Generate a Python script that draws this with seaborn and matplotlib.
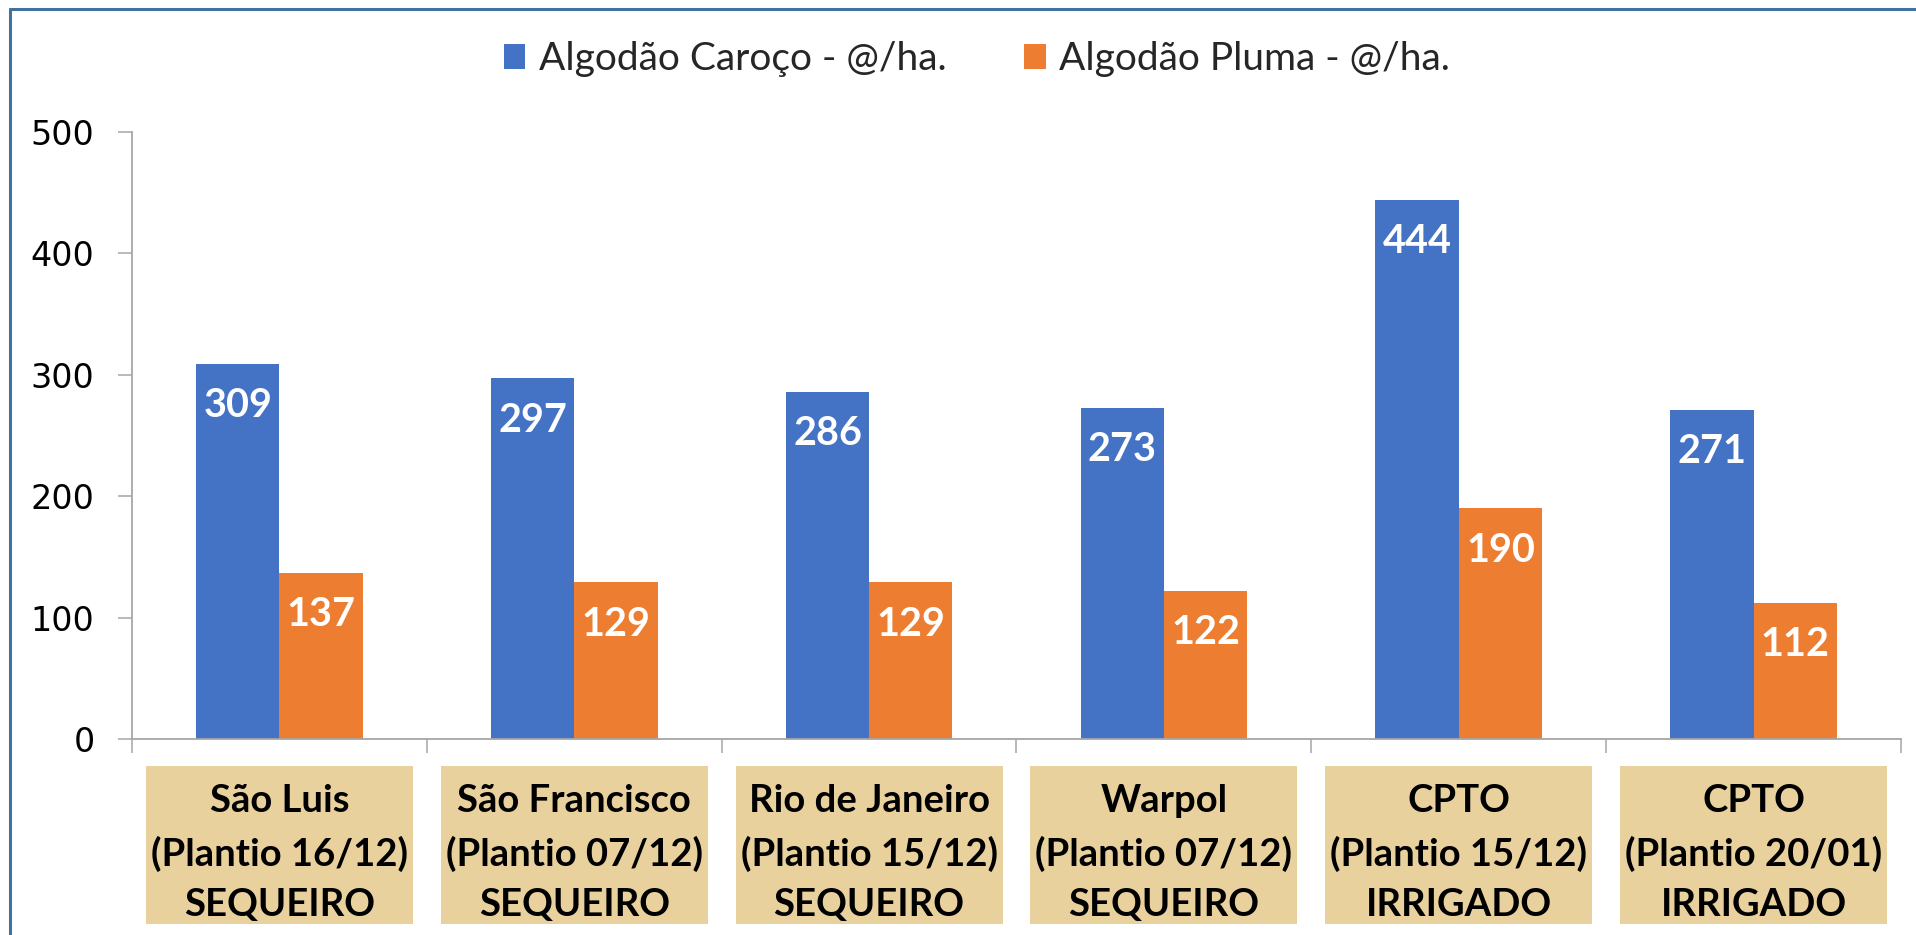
import numpy as np
import pandas as pd
import matplotlib
matplotlib.use("Agg")
import matplotlib.pyplot as plt
import matplotlib.transforms as mtransforms
from matplotlib.patches import Rectangle
from matplotlib.lines import Line2D
import seaborn as sns

# Dados do gráfico
locais = [
    "São Luis\n(Plantio 16/12)\nSEQUEIRO",
    "São Francisco\n(Plantio 07/12)\nSEQUEIRO",
    "Rio de Janeiro\n(Plantio 15/12)\nSEQUEIRO",
    "Warpol\n(Plantio 07/12)\nSEQUEIRO",
    "CPTO\n(Plantio 15/12)\nIRRIGADO",
    "CPTO\n(Plantio 20/01)\nIRRIGADO",
]
caroco = [309, 297, 286, 273, 444, 271]
pluma = [137, 129, 129, 122, 190, 112]
series = ["Algodão Caroço - @/ha.", "Algodão Pluma - @/ha."]
cores = ["#4472C4", "#ED7D31"]
y_ticks = [0, 100, 200, 300, 400, 500]

df = pd.DataFrame({
    "local": locais * 2,
    "serie": [series[0]] * len(locais) + [series[1]] * len(locais),
    "valor": caroco + pluma,
})

sns.set_theme(style="white")
plt.rcParams["font.family"] = ["Lato", "DejaVu Sans"]

W, H = 1916, 935
fig = plt.figure(figsize=(W / 100, H / 100), dpi=100, facecolor="white")
ax = fig.add_axes([132 / W, (H - 739) / H, (1901 - 132) / W, (739 - 132) / H])

sns.barplot(data=df, x="local", y="valor", hue="serie", palette=cores,
            width=0.565, saturation=1, linewidth=0, ax=ax)

# rótulos de valor dentro das barras
for cont in ax.containers:
    for barra, v in zip(cont.patches, cont.datavalues):
        ax.annotate(f"{v:.0f}", (barra.get_x() + barra.get_width() / 2, v),
                    xytext=(0, -30), textcoords="offset points",
                    ha="center", va="center", color="white",
                    fontsize=28.5, fontweight="bold")

# eixos
ax.set_ylim(0, 500)
ax.set_xlim(-0.5, len(locais) - 0.5)
ax.set_yticks(y_ticks)
ax.set_yticklabels([str(t) for t in y_ticks], family="DejaVu Sans", fontsize=24)
ax.set_xticks(np.arange(-0.5, len(locais), 1.0))
ax.set_xticklabels([])
ax.set_xlabel("")
ax.set_ylabel("")
for s in ["top", "right"]:
    ax.spines[s].set_visible(False)
for s in ["left", "bottom"]:
    ax.spines[s].set_color("#A6A6A6")
    ax.spines[s].set_linewidth(1.3)
ax.tick_params(axis="both", direction="out", length=10, width=1.1,
               color="#A6A6A6", left=True, bottom=True)
ax.tick_params(axis="y", pad=17, labelcolor="black")

# caixas com nomes dos locais
trans = mtransforms.blended_transform_factory(ax.transData, ax.transAxes)
for i, nome in enumerate(locais):
    ax.add_patch(Rectangle((i - 0.453, -0.3048), 0.906, 0.2603, transform=trans,
                           clip_on=False, facecolor="#E9D19E", edgecolor="none"))
    ax.text(i, -0.188, nome, transform=trans, ha="center", va="center",
            fontsize=27.5, fontweight="bold", color="black", linespacing=1.58)

# legenda no topo
handles, labels = ax.get_legend_handles_labels()
ax.get_legend().remove()
fig.legend(handles, labels, loc="center", bbox_to_anchor=(977 / W, 1 - 59 / H),
           ncol=2, frameon=False, fontsize=28, handlelength=0.55,
           handleheight=0.6, handletextpad=0.35, columnspacing=2.0)

# moldura (esquerda e topo)
cor_borda = "#41719C"
fig.add_artist(Line2D([10 / W, 10 / W], [0, 1 - 9 / H], color=cor_borda, lw=2.2))
fig.add_artist(Line2D([10 / W, 1], [1 - 9 / H, 1 - 9 / H], color=cor_borda, lw=2.2))

fig.savefig("out.png", dpi=100)
